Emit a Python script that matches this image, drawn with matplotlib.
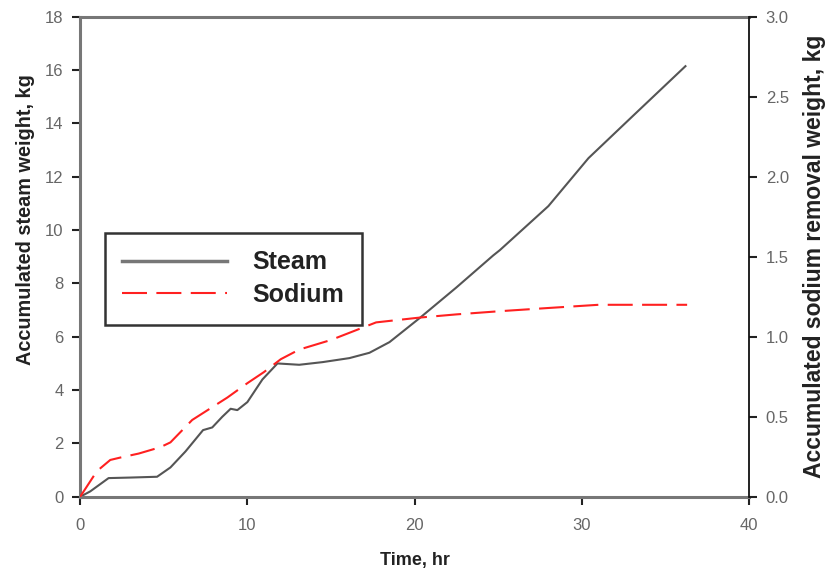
import matplotlib.pyplot as plt

plt.rcParams['font.family'] = ['Liberation Sans', 'DejaVu Sans']

# Accumulated steam weight (left axis, kg)
steam_t = [0.0, 0.6, 1.7, 3.0, 4.6, 5.4, 6.3, 7.35, 7.9, 8.5, 9.0, 9.4, 10.0,
           10.9, 11.8, 13.1, 14.5, 16.1, 17.3, 18.5, 20.3, 22.5, 24.7, 25.1,
           28.0, 30.4, 33.0, 36.2]
steam_w = [0.0, 0.2, 0.7, 0.72, 0.75, 1.1, 1.7, 2.5, 2.6, 3.0, 3.3, 3.25, 3.55,
           4.4, 5.0, 4.95, 5.05, 5.2, 5.4, 5.8, 6.7, 7.85, 9.05, 9.25,
           10.9, 12.7, 14.25, 16.15]

# Accumulated sodium removal weight (right axis, kg)
sodium_t = [0.0, 0.5, 1.0, 1.8, 2.4, 3.5, 4.8, 5.4, 6.7, 8.8, 10.0, 11.0,
            12.0, 13.1, 15.0, 17.7, 20.3, 22.5, 25.1, 28.0, 31.0, 33.5, 36.3]
sodium_w = [0.0, 0.08, 0.16, 0.23, 0.245, 0.27, 0.31, 0.34, 0.48, 0.62, 0.71,
            0.78, 0.86, 0.92, 0.98, 1.09, 1.12, 1.14, 1.16, 1.18, 1.2, 1.2, 1.2]

fig = plt.figure(figsize=(8.35, 5.81), dpi=100)
ax = fig.add_axes([0.096, 0.145, 0.801, 0.826])
ax2 = ax.twinx()

l1, = ax.plot(steam_t, steam_w, color='#555555', lw=1.5, label='Steam')
l2, = ax2.plot(sodium_t, sodium_w, color='#ff2020', lw=1.5,
               dashes=(12, 4.5), label='Sodium')

ax.set_xlim(0, 40)
ax.set_ylim(0, 18)
ax2.set_ylim(0, 3.0)
ax.set_xticks([0, 10, 20, 30, 40])
ax.set_yticks(range(0, 19, 2))
ax2.set_yticks([0.0, 0.5, 1.0, 1.5, 2.0, 2.5, 3.0])
ax2.set_yticklabels([f'{v:.1f}' for v in ax2.get_yticks()])

for a in (ax, ax2):
    a.tick_params(direction='out', length=6, width=1.5, labelsize=12,
                  labelcolor='#666666', color='#222222', pad=6)
ax.tick_params(axis='x', pad=9)
for s in ('left', 'top', 'bottom'):
    ax.spines[s].set_color('#777777')
    ax.spines[s].set_linewidth(2.2)
    ax2.spines[s].set_visible(False)
ax.spines['right'].set_visible(False)
ax2.spines['right'].set_color('#111111')
ax2.spines['right'].set_linewidth(1.3)

ax.set_xlabel('Time, hr', fontsize=13, fontweight='bold', color='#222222', labelpad=14)
ax.set_ylabel('Accumulated steam weight, kg', fontsize=14.3, fontweight='bold',
              color='#222222')
ax.yaxis.set_label_coords(-0.068, 0.577)
ax2.set_ylabel('Accumulated sodium removal weight, kg', fontsize=16.5,
               fontweight='bold', color='#222222', labelpad=10)

leg = ax.legend(handles=[l1, l2], loc='upper left', bbox_to_anchor=(0.037, 0.55),
                borderaxespad=0, prop={'weight': 'bold', 'size': 18},
                fancybox=False, framealpha=1, edgecolor='#333333',
                handlelength=4.2, handletextpad=1.0, borderpad=0.7,
                labelspacing=0.35)
leg.get_frame().set_linewidth(1.8)
leg.legend_handles[0].set_linewidth(2.5)
leg.legend_handles[0].set_color('#777777')
for t in leg.get_texts():
    t.set_color('#222222')

fig.savefig('out.png', dpi=100)
